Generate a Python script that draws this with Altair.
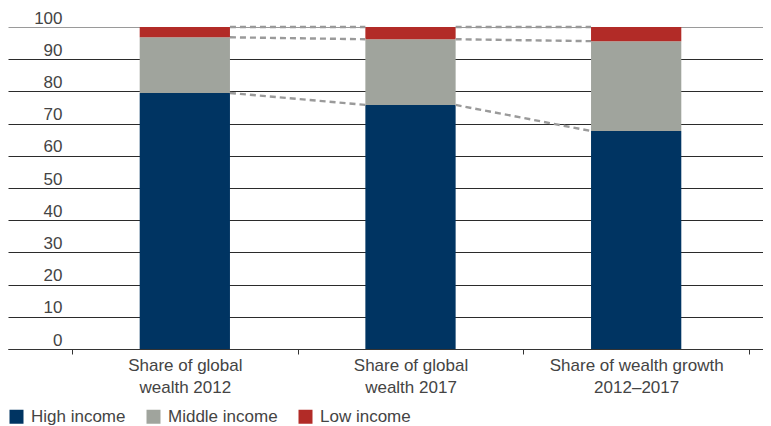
import altair as alt
import pandas as pd

categories = ["Share of global|wealth 2012", "Share of global|wealth 2017", "Share of wealth growth|2012–2017"]
groups = ["High income", "Middle income", "Low income"]
high = [79.5, 75.8, 67.7]
middle = [17.3, 20.4, 27.9]
low = [3.2, 3.8, 4.4]
colors = ["#003462", "#a0a49d", "#b22b27"]
y_ticks = list(range(0, 101, 10))

series = [high, middle, low]
rows = []
for i, c in enumerate(categories):
    for j, g in enumerate(groups):
        rows.append({"cat": c, "group": g, "value": series[j][i], "order": j})
bars_df = pd.DataFrame(rows)

conn = []
for i in range(len(categories) - 1):
    ca, cb = 0.0, 0.0
    for vals in series:
        ca += vals[i]
        cb += vals[i + 1]
        conn.append({"src": categories[i], "dst": categories[i + 1], "ya": ca, "yb": cb})
conn_df = pd.DataFrame(conn)

FONT = "Liberation Sans"
TXT = "#444444"

xscale = alt.Scale(domain=categories, paddingInner=0, paddingOuter=0.1728, align=0.8205)
yscale = alt.Scale(domain=[0, 100], nice=False, zero=True)

xaxis = alt.Axis(
    title=None, orient="bottom", domain=True, domainColor="#333333", domainWidth=1,
    ticks=True, tickSize=5, tickColor="#333333", tickBand="extent", grid=False,
    labelExpr="split(datum.label, '|')", labelFont=FONT, labelFontSize=17,
    labelColor=TXT, labelLineHeight=22, labelPadding=3, labelAngle=0)
yaxis = alt.Axis(
    title=None, values=y_ticks, domain=False, ticks=False, tickSize=0,
    grid=True, gridWidth=1, labelOverlap=False,
    gridColor={"condition": {"test": "datum.value === 100", "value": "#9a9a9a"}, "value": "#2b2b2b"},
    labelAlign="right", labelBaseline="alphabetic", labelPadding=-54, labelOffset=-4,
    labelFont=FONT, labelFontSize=17, labelColor=TXT)

bars = alt.Chart(bars_df).mark_bar(width={"band": 0.4}).encode(
    x=alt.X("cat:N", scale=xscale, sort=categories, axis=xaxis),
    y=alt.Y("sum(value):Q", scale=yscale, stack="zero", axis=yaxis),
    color=alt.Color("group:N", scale=alt.Scale(domain=groups, range=colors), legend=alt.Legend(
        title=None, orient="none", legendX=0, legendY=381, direction="horizontal",
        symbolType="square", symbolSize=196, symbolStrokeWidth=0, symbolOpacity=1,
        labelFont=FONT, labelFontSize=17, labelColor=TXT, columnPadding=19,
        labelOffset=6, padding=0)),
    order=alt.Order("order:Q", sort="ascending"),
)

rules = alt.Chart(conn_df).mark_rule(color="#9a9a9a", strokeWidth=2.4, strokeDash=[6, 4]).encode(
    x=alt.X("src:N", scale=xscale, bandPosition=0.7, axis=xaxis),
    x2=alt.X2("dst:N", bandPosition=0.3),
    y=alt.Y("ya:Q", scale=yscale, axis=yaxis),
    y2=alt.Y2("yb:Q"),
)

chart = alt.layer(bars, rules).properties(
    width=755, height=322,
    background="white",
    autosize=alt.AutoSizeParams(type="none"),
    padding={"left": 0, "top": 19, "right": 0, "bottom": 77},
).configure_view(stroke=None)

chart.save("out.html", embed_options={"renderer": "svg", "actions": False})
